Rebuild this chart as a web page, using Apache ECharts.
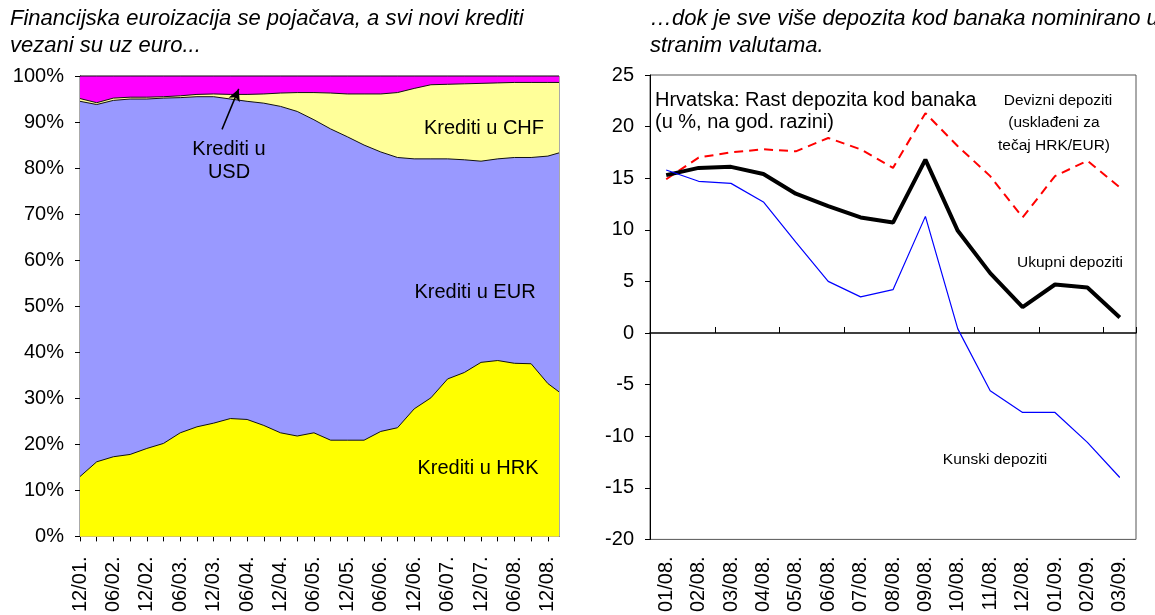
<!DOCTYPE html>
<html>
<head>
<meta charset="utf-8">
<script src="https://cdn.jsdelivr.net/npm/echarts@6/dist/echarts.min.js"></script>
<style>
  html, body { margin: 0; padding: 0; background: #fff; }
  #chart { width: 1155px; height: 615px; }
</style>
</head>
<body>
<div id="chart"></div>
<script>
// lijevo: struktura kredita po valutama (%), kvartalno od 12/01 (mjesec 0) do 12/08, zadnja tocka 02/09
const loanMonths = [0, 3, 6, 9, 12, 15, 18, 21, 24, 27, 30, 33, 36, 39, 42, 45, 48, 51, 54, 57, 60, 63, 66, 69, 72, 75, 78, 81, 84, 86]
const loanHRK = [13.0, 16.2, 17.3, 17.8, 19.1, 20.2, 22.5, 23.8, 24.6, 25.6, 25.4, 24.1, 22.5, 21.8, 22.5, 20.9, 20.9, 20.9, 22.8, 23.6, 27.7, 30.1, 34.2, 35.6, 37.8, 38.2, 37.6, 37.5, 33.2, 31.4]
const loanEUR = [81.5, 77.6, 77.4, 77.2, 75.9, 75.0, 72.8, 71.7, 70.9, 69.4, 69.1, 70.0, 70.9, 70.5, 68.0, 67.6, 65.9, 64.1, 60.7, 58.7, 54.3, 51.9, 47.8, 46.2, 43.7, 43.8, 44.7, 44.8, 49.4, 51.9]
const loanCHF = [0.6, 0.4, 0.5, 0.4, 0.4, 0.3, 0.4, 0.5, 0.6, 1.0, 1.5, 2.0, 2.9, 4.1, 5.9, 7.8, 9.3, 11.1, 12.6, 14.1, 15.3, 16.1, 16.2, 16.5, 16.9, 16.5, 16.3, 16.3, 16.0, 15.3]
const loanUSD = [4.9, 5.8, 4.8, 4.6, 4.6, 4.5, 4.3, 4.0, 3.9, 4.0, 4.0, 3.9, 3.7, 3.6, 3.6, 3.7, 3.9, 3.9, 3.9, 3.6, 2.7, 1.9, 1.8, 1.7, 1.6, 1.5, 1.4, 1.4, 1.4, 1.4]
// oznake osi svakih 6 mjeseci
const loanTickLabels = ['12/01.', '06/02.', '12/02.', '06/03.', '12/03.', '06/04.', '12/04.', '06/05.', '12/05.', '06/06.', '12/06.', '06/07.', '12/07.', '06/08.', '12/08.']

// desno: rast depozita (u %, god.)
const depCats = ['01/08.', '02/08.', '03/08.', '04/08.', '05/08.', '06/08.', '07/08.', '08/08.', '09/08.', '10/08.', '11/08.', '12/08.', '01/09.', '02/09.', '03/09.']
const depFx = [14.9, 17.0, 17.5, 17.8, 17.6, 18.9, 17.8, 16.0, 21.3, 18.1, 15.2, 11.2, 15.2, 16.7, 14.1]
const depTotal = [15.3, 16.0, 16.1, 15.4, 13.5, 12.3, 11.2, 10.7, 16.8, 9.9, 5.8, 2.5, 4.7, 4.4, 1.5]
const depHrk = [15.8, 14.7, 14.5, 12.7, 8.8, 5.0, 3.5, 4.2, 11.3, 0.4, -5.6, -7.7, -7.7, -10.6, -14.0]

const FONT = 'Arial, "Liberation Sans", sans-serif'
const chart = echarts.init(document.getElementById('chart'))

// stack na value osi ne radi pouzdano, pa zbrajamo slojeve rucno (odozdo prema gore)
const layers = [
  { name: 'Krediti u HRK', values: loanHRK, color: '#FFFF00' },
  { name: 'Krediti u EUR', values: loanEUR, color: '#9999FF' },
  { name: 'Krediti u CHF', values: loanCHF, color: '#FFFF99' },
  { name: 'Krediti u USD', values: loanUSD, color: '#FF00FF' }
]
let running = loanMonths.map(() => 0)
layers.forEach((layer) => {
  running = running.map((s, i) => s + layer.values[i])
  layer.top = running.slice()
})

// gornji sloj se crta prvi, donji preko njega
const areaSeries = layers.slice().reverse().map((layer) => ({
  name: layer.name,
  type: 'line',
  xAxisIndex: 0,
  yAxisIndex: 0,
  symbol: 'none',
  lineStyle: { color: '#111', width: 1 },
  areaStyle: { color: layer.color, opacity: 1, origin: 'start' },
  data: loanMonths.map((m, i) => [m, layer.top[i]])
}))

// strelica prema sloju USD
areaSeries[0].markLine = {
  silent: true,
  symbol: ['none', 'arrow'],
  symbolSize: [9, 12],
  label: { show: false },
  lineStyle: { color: '#000', width: 1.5, type: 'solid' },
  data: [[{ coord: [25.5, 88.4] }, { coord: [28.5, 97.2] }]]
}

function txt(x, y, text, size, align) {
  return {
    type: 'text',
    x: x,
    y: y,
    silent: true,
    z: 100,
    style: {
      text: text,
      fill: '#000',
      font: size + 'px ' + FONT,
      textAlign: align || 'center',
      textVerticalAlign: 'middle'
    }
  }
}

const titleStyle = { fontStyle: 'italic', fontWeight: 'normal', fontSize: 22, lineHeight: 27, color: '#000', fontFamily: FONT }

const option = {
  animation: false,
  textStyle: { fontFamily: FONT },
  title: [
    {
      text: 'Financijska euroizacija se pojačava, a svi novi krediti\nvezani su uz euro...',
      left: 10,
      top: 5,
      padding: 0,
      textStyle: titleStyle
    },
    {
      text: '…dok je sve više depozita kod banaka nominirano u\nstranim valutama.',
      left: 650,
      top: 5,
      padding: 0,
      textStyle: titleStyle
    }
  ],
  grid: [
    { left: 80, top: 76, width: 479, height: 464, show: true, borderColor: '#555', borderWidth: 1 },
    { left: 650, top: 75, width: 486, height: 468, show: true, borderColor: '#555', borderWidth: 1 }
  ],
  xAxis: [
    {
      gridIndex: 0,
      type: 'value',
      min: 0,
      max: 86,
      interval: 3,
      axisLine: { show: true, onZero: false, lineStyle: { color: '#000', width: 1 } },
      axisTick: { show: true, length: 5, lineStyle: { color: '#000' } },
      splitLine: { show: false },
      axisLabel: {
        rotate: 90,
        fontSize: 20,
        color: '#000',
        margin: 20,
        showMaxLabel: false,
        formatter: (v) => (v % 6 === 0 ? loanTickLabels[v / 6] || '' : '')
      }
    },
    {
      gridIndex: 1,
      type: 'category',
      data: depCats,
      position: 'bottom',
      axisLine: { show: false, onZero: false },
      axisTick: { show: false },
      axisLabel: { rotate: 90, fontSize: 20, color: '#000', margin: 17 }
    },
    {
      gridIndex: 1,
      type: 'category',
      data: depCats,
      position: 'top',
      axisLine: { show: true, onZero: true, lineStyle: { color: '#000', width: 1.5 } },
      axisTick: { show: true, length: 6, lineStyle: { color: '#000' } },
      axisLabel: { show: false }
    }
  ],
  yAxis: [
    {
      gridIndex: 0,
      type: 'value',
      min: 0,
      max: 100,
      interval: 10,
      axisLine: { show: true, lineStyle: { color: '#000' } },
      axisTick: { show: true, length: 5, lineStyle: { color: '#000' } },
      splitLine: { show: false },
      axisLabel: { fontSize: 20, color: '#000', margin: 16, formatter: '{value}%' }
    },
    {
      gridIndex: 1,
      type: 'value',
      min: -20,
      max: 25,
      interval: 5,
      axisLine: { show: true, lineStyle: { color: '#000' } },
      axisTick: { show: true, length: 5, lineStyle: { color: '#000' } },
      splitLine: { show: false },
      axisLabel: { fontSize: 20, color: '#000', margin: 16 }
    }
  ],
  series: areaSeries.concat([
    {
      name: 'Devizni depoziti',
      type: 'line',
      xAxisIndex: 1,
      yAxisIndex: 1,
      symbol: 'none',
      lineStyle: { color: '#FF0000', width: 2, type: [9, 6] },
      data: depFx
    },
    {
      name: 'Ukupni depoziti',
      type: 'line',
      xAxisIndex: 1,
      yAxisIndex: 1,
      symbol: 'none',
      lineStyle: { color: '#000', width: 4 },
      data: depTotal
    },
    {
      name: 'Kunski depoziti',
      type: 'line',
      xAxisIndex: 1,
      yAxisIndex: 1,
      symbol: 'none',
      lineStyle: { color: '#0000FF', width: 1.2 },
      data: depHrk
    }
  ]),
  graphic: [
    txt(484, 128, 'Krediti u CHF', 20),
    txt(229, 149, 'Krediti u', 20),
    txt(229, 172, 'USD', 20),
    txt(475, 292, 'Krediti u EUR', 20),
    txt(478, 468, 'Krediti u HRK', 20),
    txt(655, 100, 'Hrvatska: Rast depozita kod banaka', 20, 'left'),
    txt(655, 122, '(u %, na god. razini)', 20, 'left'),
    txt(1058, 101, 'Devizni depoziti', 15.5),
    txt(1054, 123, '(usklađeni za', 15.5),
    txt(1054, 146, 'tečaj HRK/EUR)', 15.5),
    txt(1070, 263, 'Ukupni depoziti', 15.5),
    txt(995, 460, 'Kunski depoziti', 15.5)
  ]
}

chart.setOption(option)
</script>
</body>
</html>
